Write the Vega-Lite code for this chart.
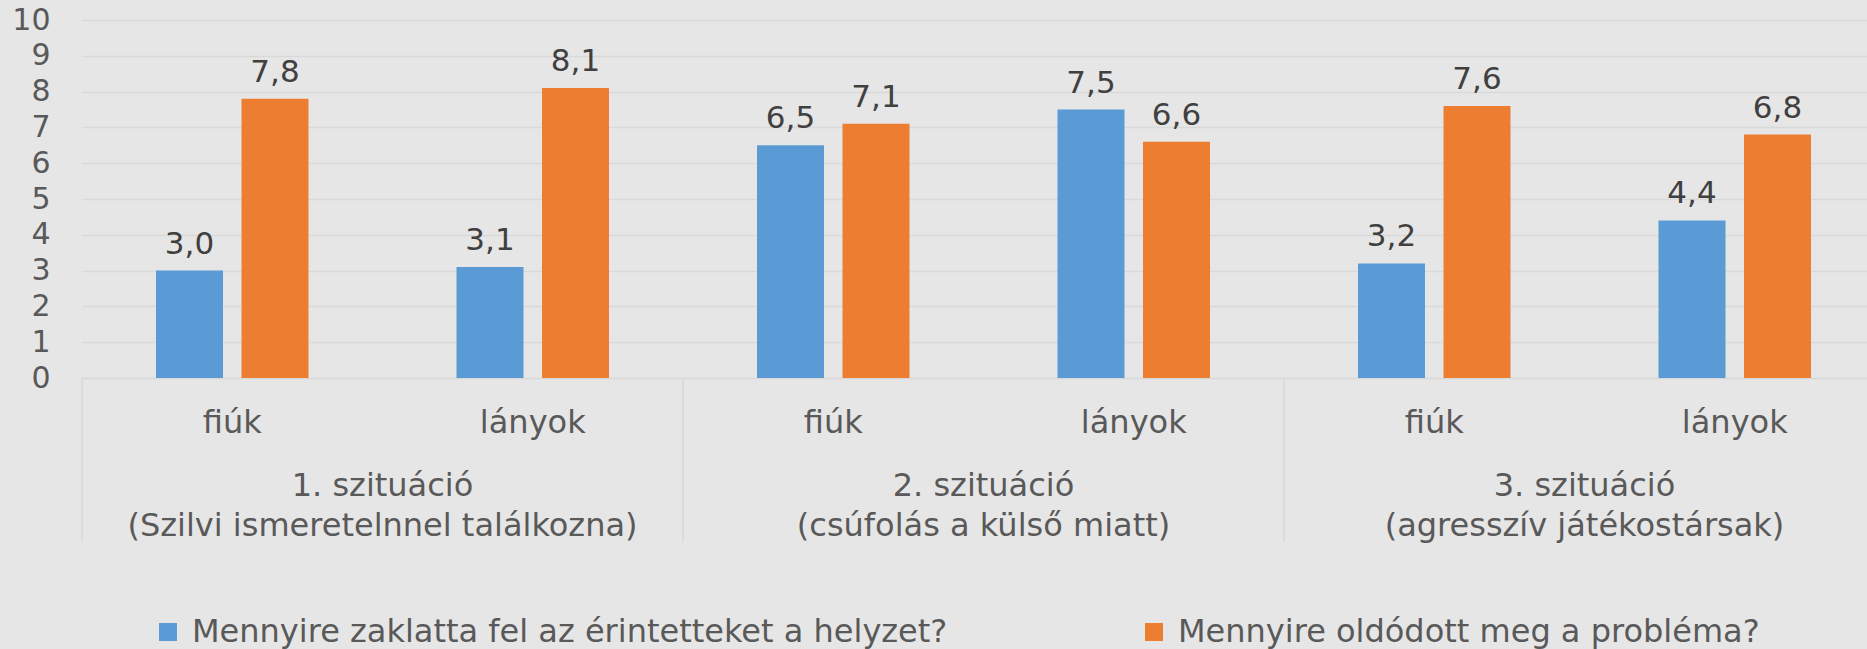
{
  "$schema": "https://vega.github.io/schema/vega-lite/v6.json",
  "width": 1803,
  "height": 358,
  "autosize": {"type": "none"},
  "padding": {"left": 82, "top": 20, "right": 0, "bottom": 271},
  "background": "#E7E6E6",
  "config": {
    "view": {"stroke": null},
    "font": "DejaVu Sans",
    "locale": {"number": {"decimal": ",", "thousands": " ", "grouping": [3], "currency": ["", ""]}},
    "text": {"lineBreak": "\n"}
  },
  "data": {
    "values": [
      {"kat": "1|fiúk", "nem": "fiúk", "szituacio": "1. szituáció\n(Szilvi ismeretelnnel találkozna)", "sorozat": "Mennyire zaklatta fel az érintetteket a helyzet?", "ertek": 3.0},
      {"kat": "1|fiúk", "nem": "fiúk", "szituacio": "1. szituáció\n(Szilvi ismeretelnnel találkozna)", "sorozat": "Mennyire oldódott meg a probléma?", "ertek": 7.8},
      {"kat": "1|lányok", "nem": "lányok", "szituacio": "1. szituáció\n(Szilvi ismeretelnnel találkozna)", "sorozat": "Mennyire zaklatta fel az érintetteket a helyzet?", "ertek": 3.1},
      {"kat": "1|lányok", "nem": "lányok", "szituacio": "1. szituáció\n(Szilvi ismeretelnnel találkozna)", "sorozat": "Mennyire oldódott meg a probléma?", "ertek": 8.1},
      {"kat": "2|fiúk", "nem": "fiúk", "szituacio": "2. szituáció\n(csúfolás a külső miatt)", "sorozat": "Mennyire zaklatta fel az érintetteket a helyzet?", "ertek": 6.5},
      {"kat": "2|fiúk", "nem": "fiúk", "szituacio": "2. szituáció\n(csúfolás a külső miatt)", "sorozat": "Mennyire oldódott meg a probléma?", "ertek": 7.1},
      {"kat": "2|lányok", "nem": "lányok", "szituacio": "2. szituáció\n(csúfolás a külső miatt)", "sorozat": "Mennyire zaklatta fel az érintetteket a helyzet?", "ertek": 7.5},
      {"kat": "2|lányok", "nem": "lányok", "szituacio": "2. szituáció\n(csúfolás a külső miatt)", "sorozat": "Mennyire oldódott meg a probléma?", "ertek": 6.6},
      {"kat": "3|fiúk", "nem": "fiúk", "szituacio": "3. szituáció\n(agresszív játékostársak)", "sorozat": "Mennyire zaklatta fel az érintetteket a helyzet?", "ertek": 3.2},
      {"kat": "3|fiúk", "nem": "fiúk", "szituacio": "3. szituáció\n(agresszív játékostársak)", "sorozat": "Mennyire oldódott meg a probléma?", "ertek": 7.6},
      {"kat": "3|lányok", "nem": "lányok", "szituacio": "3. szituáció\n(agresszív játékostársak)", "sorozat": "Mennyire zaklatta fel az érintetteket a helyzet?", "ertek": 4.4},
      {"kat": "3|lányok", "nem": "lányok", "szituacio": "3. szituáció\n(agresszív játékostársak)", "sorozat": "Mennyire oldódott meg a probléma?", "ertek": 6.8}
    ]
  },
  "layer": [
    {
      "mark": {"type": "bar"},
      "encoding": {
        "x": {
          "field": "kat", "type": "nominal", "sort": null,
          "scale": {"paddingInner": 0, "paddingOuter": 0},
          "axis": {
            "title": null,
            "labelExpr": "split(datum.value, '|')[1]",
            "ticks": false, "tickSize": 0,
            "domainColor": "#D9D9D9", "domainWidth": 1.5,
            "labelFontSize": 32, "labelColor": "#595959",
            "labelPadding": 54, "labelBaseline": "alphabetic", "labelAngle": 0
          }
        },
        "xOffset": {
          "field": "sorozat", "type": "nominal", "sort": null,
          "scale": {"paddingInner": 0.2164, "paddingOuter": 0.8655}
        },
        "y": {
          "field": "ertek", "type": "quantitative",
          "scale": {"domain": [0, 10], "nice": false},
          "axis": {
            "title": null,
            "values": [0, 1, 2, 3, 4, 5, 6, 7, 8, 9, 10],
            "tickCount": 11,
            "labelOverlap": false,
            "domain": false, "ticks": false, "tickSize": 0,
            "labelPadding": 32, "labelFontSize": 30, "labelColor": "#595959",
            "gridColor": "#D9D9D9", "gridWidth": 1.5
          }
        },
        "color": {
          "field": "sorozat", "type": "nominal",
          "scale": {
            "domain": ["Mennyire zaklatta fel az érintetteket a helyzet?", "Mennyire oldódott meg a probléma?"],
            "range": ["#5B9BD5", "#ED7D31"]
          },
          "legend": {
            "title": null,
            "orient": "none",
            "legendX": 70,
            "legendY": 596,
            "direction": "horizontal",
            "symbolType": "square",
            "symbolSize": 324,
            "symbolStrokeWidth": 0,
            "labelFontSize": 32,
            "labelColor": "#595959",
            "labelOffset": 8,
            "columnPadding": 190,
            "labelLimit": 1000
          }
        }
      }
    },
    {
      "mark": {"type": "text", "baseline": "alphabetic", "dy": -17, "fontSize": 31, "color": "#404040"},
      "encoding": {
        "x": {"field": "kat", "type": "nominal", "sort": null},
        "xOffset": {"field": "sorozat", "type": "nominal", "sort": null},
        "y": {"field": "ertek", "type": "quantitative"},
        "text": {"field": "ertek", "type": "quantitative", "format": ".1f"}
      }
    },
    {
      "transform": [{"filter": "datum.nem == 'lányok' && datum.sorozat == 'Mennyire zaklatta fel az érintetteket a helyzet?'"}],
      "mark": {"type": "text", "baseline": "alphabetic", "align": "center", "dy": 118, "fontSize": 32, "lineHeight": 40, "color": "#595959"},
      "encoding": {
        "x": {"field": "kat", "type": "nominal", "sort": null, "bandPosition": 0},
        "y": {"datum": 0},
        "text": {"field": "szituacio", "type": "nominal"}
      }
    },
    {
      "transform": [{"filter": "datum.nem == 'fiúk' && datum.sorozat == 'Mennyire zaklatta fel az érintetteket a helyzet?'"}],
      "mark": {"type": "rule", "color": "#D9D9D9", "strokeWidth": 1.5},
      "encoding": {
        "x": {"field": "kat", "type": "nominal", "sort": null, "bandPosition": 0},
        "y": {"datum": 0},
        "y2": {"datum": -4.59}
      }
    }
  ]
}
